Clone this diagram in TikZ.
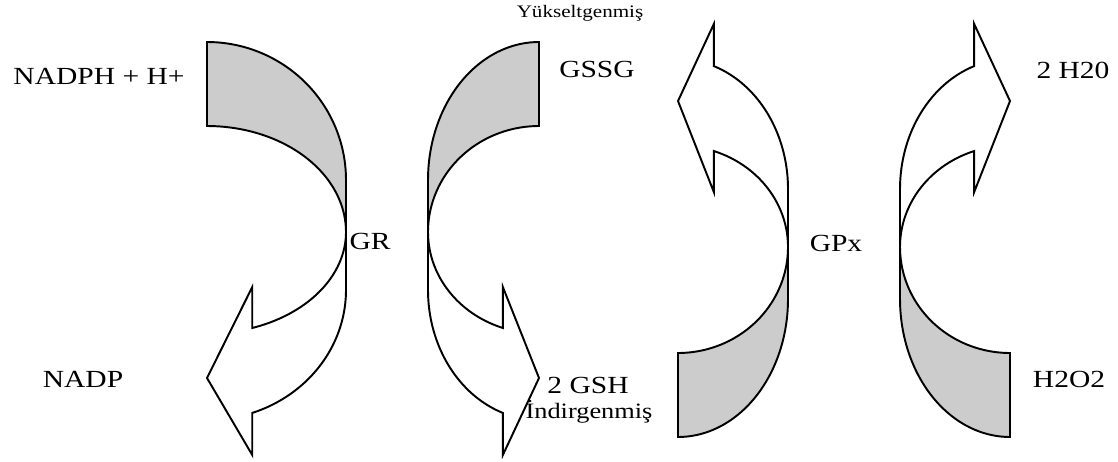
\documentclass[tikz,border=0pt]{standalone}
\usepackage{fontspec}
\setmainfont[FakeStretch=1.2]{Liberation Serif}

% one bent block arrow, #1 = half width of the bend
\newcommand{\bentarrow}[1]{%
  \filldraw[band] (0,42) -- plot[domain=-90:0] ({#1*cos(\x)},{180+138*sin(\x)})
    -- ({#1},232) -- plot[domain=0:-90] ({#1*cos(\x)},{232+106*sin(\x)}) -- cycle;
  \filldraw[shaft] plot[domain=0:71] ({#1*cos(\x)},{232+101.5*sin(\x)})
    -- ({#1*0.3256},287) -- (0,378) -- ({#1*0.3256},455)
    -- plot[domain=71:0] ({#1*cos(\x)},{290+130*sin(\x)}) -- cycle;
}

\begin{document}
\begin{tikzpicture}[x=0.02cm, y=-0.02cm, line join=miter,
  band/.style={draw=black, fill=black!20, line width=1.1pt, smooth, samples=40},
  shaft/.style={draw=black, fill=white, line width=1.1pt, smooth, samples=40},
  lbl/.style={inner sep=0pt, font=\fontsize{14}{16}\selectfont},
  small/.style={inner sep=0pt, font=\fontsize{10}{12}\selectfont}]
  \useasboundingbox (0,0) rectangle (1118,461);

  % GR side
  \begin{scope}[shift={(207,0)}]
    \bentarrow{139}
  \end{scope}
  \begin{scope}[shift={(539,0)}, xscale=-1]
    \bentarrow{111}
  \end{scope}

  % GPx side
  \begin{scope}[shift={(678,479)}, yscale=-1]
    \bentarrow{110}
  \end{scope}
  \begin{scope}[shift={(1010,479)}, xscale=-1, yscale=-1]
    \bentarrow{110}
  \end{scope}

  \node[lbl] (nadph) at (99,76) {NADPH + H+};
  \node[lbl] (nadp) at (83,379) {NADP};
  \node[lbl] (gr) at (370,241) {GR};
  \node[small] (ox) at (580,13) {Yükseltgenmiş};
  \node[lbl] (gssg) at (597,69) {GSSG};
  \node[lbl] (gsh) at (588,385) {2 GSH};
  \node[small, font=\fontsize{12.5}{14}\selectfont] (red) at (589,412) {İndirgenmiş};
  \node[lbl] (gpx) at (836,243) {GPx};
  \node[lbl] (water) at (1073,70) {2 H20};
  \node[lbl] (peroxide) at (1069,379) {H2O2};
\end{tikzpicture}
\end{document}
